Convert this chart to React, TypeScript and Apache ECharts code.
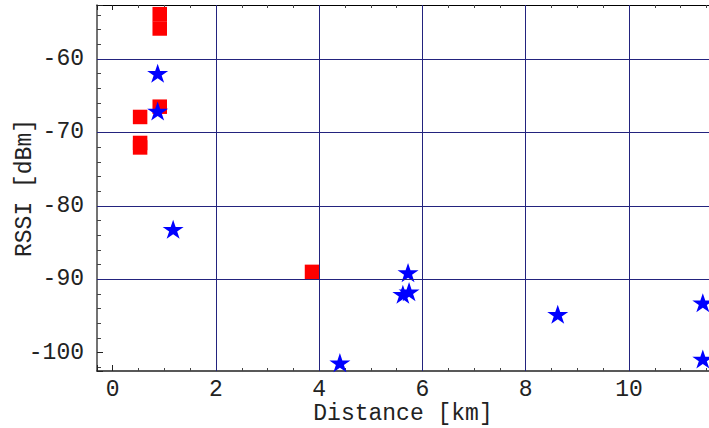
import React, { useEffect, useRef } from "react";
import * as echarts from "echarts";

const starX = [0.87, 0.87, 1.17, 5.72, 5.74, 5.62, 4.4, 8.62, 11.43, 11.43];
const starY = [-61.95, -67.08, -83.2, -89.1, -91.69, -92.05, -101.36, -94.77, -93.19, -100.86];
const squareX = [0.91, 0.91, 0.91, 0.53, 0.53, 0.53, 3.86];
const squareY = [-53.9, -55.85, -66.5, -67.9, -71.44, -72.05, -89.0];
const xGridValues = [2, 4, 6, 8, 10];
const yGridValues = [-60, -70, -80, -90];

const X_MIN = -0.305;
const X_MAX = 11.55;
const Y_MIN = -102.5;
const Y_MAX = -52.65;

const STAR =
  "path://M50 0 L61.23 34.55 L97.55 34.55 L68.16 55.9 L79.39 90.45 L50 69.1 L20.61 90.45 L31.84 55.9 L2.45 34.55 L38.77 34.55 Z";

const FONT = "'Liberation Mono', 'DejaVu Sans Mono', monospace";
const FS = 23;

export default function App() {
  const ref = useRef<HTMLDivElement>(null);
  useEffect(() => {
    if (!ref.current) return;
    const chart = echarts.init(ref.current, null, { renderer: "svg" });
    const gridColor = "#23237e";
    chart.setOption({
      animation: false,
      backgroundColor: "#ffffff",
      grid: {
        left: 97,
        top: 5,
        right: 0,
        bottom: 57,
        containLabel: false,
        outerBoundsMode: "none",
      },
      xAxis: [
        {
          type: "value",
          position: "bottom",
          min: X_MIN,
          max: X_MAX,
          name: "Distance [km]",
          nameLocation: "middle",
          nameGap: 31,
          nameMoveOverlap: false,
          nameTextStyle: { fontFamily: FONT, fontSize: FS, color: "#222" },
          axisLine: { show: true, onZero: false, lineStyle: { color: "#222", width: 1.5 } },
          axisTick: { show: true, inside: true, length: 6, lineStyle: { color: "#222" } },
          minorTick: { show: true, splitNumber: 4, length: 3, lineStyle: { color: "#444" } },
          axisLabel: {
            show: true,
            margin: 7,
            showMinLabel: false,
            showMaxLabel: false,
            fontFamily: FONT,
            fontSize: FS,
            color: "#222",
          },
          splitLine: { show: false },
        },
        {
          type: "value",
          position: "top",
          min: X_MIN,
          max: X_MAX,
          axisLine: { show: true, onZero: false, lineStyle: { color: "#000", width: 1 } },
          axisTick: { show: true, inside: true, length: 5, lineStyle: { color: "#222" } },
          minorTick: { show: true, splitNumber: 4, length: 3, lineStyle: { color: "#444" } },
          axisLabel: { show: false },
          splitLine: { show: false },
        },
      ],
      yAxis: {
        type: "value",
        min: Y_MIN,
        max: Y_MAX,
        name: "RSSI [dBm]",
        nameLocation: "middle",
        nameGap: 61,
        nameMoveOverlap: false,
        nameRotate: 90,
        nameTextStyle: { fontFamily: FONT, fontSize: FS, color: "#222" },
        axisLine: { show: true, onZero: false, lineStyle: { color: "#444", width: 1.5 } },
        axisTick: { show: true, inside: true, length: 6, lineStyle: { color: "#222" } },
        minorTick: { show: true, splitNumber: 5, length: 4, lineStyle: { color: "#444" } },
        axisLabel: {
          show: true,
          margin: 13,
          showMinLabel: false,
          showMaxLabel: false,
          fontFamily: FONT,
          fontSize: FS,
          color: "#222",
        },
        splitLine: { show: false },
      },
      series: [
        {
          type: "line",
          data: [],
          z: 1,
          silent: true,
          markLine: {
            silent: true,
            symbol: "none",
            animation: false,
            label: { show: false },
            emphasis: { disabled: true },
            lineStyle: { color: gridColor, width: 1, type: "solid" },
            data: [
              ...xGridValues.map((v) => ({ xAxis: v })),
              ...yGridValues.map((v) => ({ yAxis: v })),
            ],
          },
        },
        {
          type: "scatter",
          z: 2,
          symbol: "rect",
          symbolSize: 14.5,
          itemStyle: { color: "#ff0000", opacity: 1 },
          data: squareX.map((x, i) => [x, squareY[i]]),
        },
        {
          type: "scatter",
          z: 3,
          symbol: STAR,
          symbolKeepAspect: true,
          symbolSize: [21, 20],
          itemStyle: { color: "#0000ff", opacity: 1 },
          data: starX.map((x, i) => [x, starY[i]]),
        },
      ],
    });
    return () => chart.dispose();
  }, []);
  return (
    <div
      ref={ref}
      style={{ position: "fixed", left: 0, top: 0, width: 709, height: 428, background: "#fff" }}
    />
  );
}
